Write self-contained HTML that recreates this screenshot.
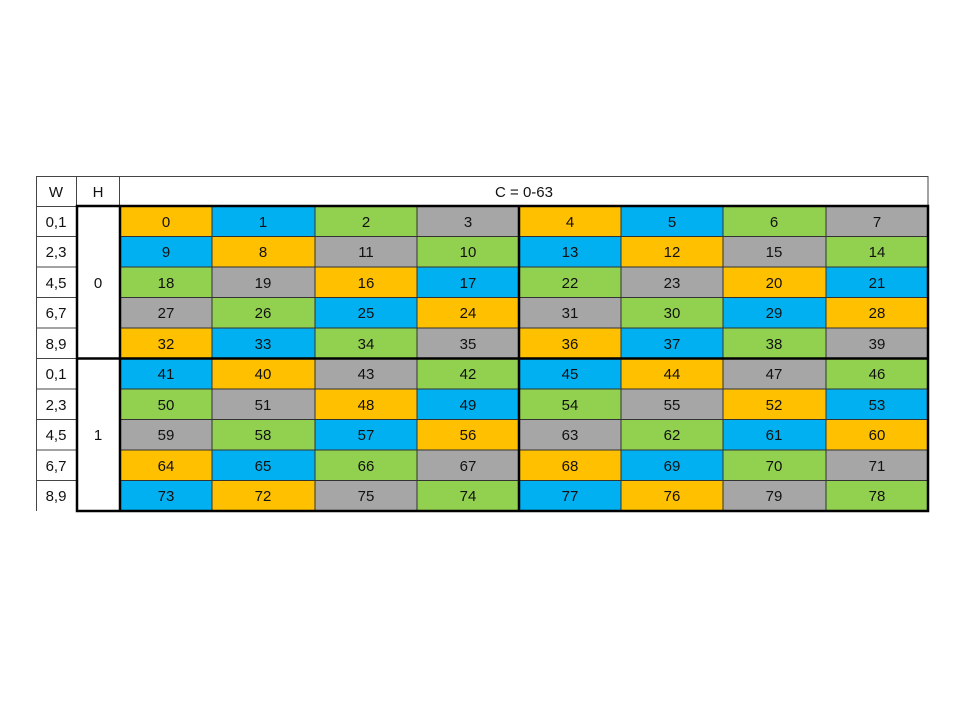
<!DOCTYPE html>
<html><head><meta charset="utf-8"><style>
html,body{margin:0;padding:0;background:#fff;}
svg{display:block;}
text{font-family:"Liberation Sans",sans-serif;font-size:15px;fill:#111;text-anchor:middle;}
</style></head><body>
<svg width="978" height="720" viewBox="0 0 978 720" xmlns="http://www.w3.org/2000/svg">
<g stroke="#333" stroke-width="1">
<!-- row 0 -->
<rect x="120" y="206" width="92" height="30.5" fill="#FFC000"/><rect x="212" y="206" width="103" height="30.5" fill="#00B0F0"/><rect x="315" y="206" width="102" height="30.5" fill="#92D050"/><rect x="417" y="206" width="102" height="30.5" fill="#A6A6A6"/><rect x="519" y="206" width="102" height="30.5" fill="#FFC000"/><rect x="621" y="206" width="102" height="30.5" fill="#00B0F0"/><rect x="723" y="206" width="103" height="30.5" fill="#92D050"/><rect x="826" y="206" width="102" height="30.5" fill="#A6A6A6"/>
<!-- row 1 -->
<rect x="120" y="236.5" width="92" height="30.5" fill="#00B0F0"/><rect x="212" y="236.5" width="103" height="30.5" fill="#FFC000"/><rect x="315" y="236.5" width="102" height="30.5" fill="#A6A6A6"/><rect x="417" y="236.5" width="102" height="30.5" fill="#92D050"/><rect x="519" y="236.5" width="102" height="30.5" fill="#00B0F0"/><rect x="621" y="236.5" width="102" height="30.5" fill="#FFC000"/><rect x="723" y="236.5" width="103" height="30.5" fill="#A6A6A6"/><rect x="826" y="236.5" width="102" height="30.5" fill="#92D050"/>
<!-- row 2 -->
<rect x="120" y="267" width="92" height="30.5" fill="#92D050"/><rect x="212" y="267" width="103" height="30.5" fill="#A6A6A6"/><rect x="315" y="267" width="102" height="30.5" fill="#FFC000"/><rect x="417" y="267" width="102" height="30.5" fill="#00B0F0"/><rect x="519" y="267" width="102" height="30.5" fill="#92D050"/><rect x="621" y="267" width="102" height="30.5" fill="#A6A6A6"/><rect x="723" y="267" width="103" height="30.5" fill="#FFC000"/><rect x="826" y="267" width="102" height="30.5" fill="#00B0F0"/>
<!-- row 3 -->
<rect x="120" y="297.5" width="92" height="30.5" fill="#A6A6A6"/><rect x="212" y="297.5" width="103" height="30.5" fill="#92D050"/><rect x="315" y="297.5" width="102" height="30.5" fill="#00B0F0"/><rect x="417" y="297.5" width="102" height="30.5" fill="#FFC000"/><rect x="519" y="297.5" width="102" height="30.5" fill="#A6A6A6"/><rect x="621" y="297.5" width="102" height="30.5" fill="#92D050"/><rect x="723" y="297.5" width="103" height="30.5" fill="#00B0F0"/><rect x="826" y="297.5" width="102" height="30.5" fill="#FFC000"/>
<!-- row 4 -->
<rect x="120" y="328" width="92" height="30.5" fill="#FFC000"/><rect x="212" y="328" width="103" height="30.5" fill="#00B0F0"/><rect x="315" y="328" width="102" height="30.5" fill="#92D050"/><rect x="417" y="328" width="102" height="30.5" fill="#A6A6A6"/><rect x="519" y="328" width="102" height="30.5" fill="#FFC000"/><rect x="621" y="328" width="102" height="30.5" fill="#00B0F0"/><rect x="723" y="328" width="103" height="30.5" fill="#92D050"/><rect x="826" y="328" width="102" height="30.5" fill="#A6A6A6"/>
<!-- row 5 -->
<rect x="120" y="358.5" width="92" height="30.5" fill="#00B0F0"/><rect x="212" y="358.5" width="103" height="30.5" fill="#FFC000"/><rect x="315" y="358.5" width="102" height="30.5" fill="#A6A6A6"/><rect x="417" y="358.5" width="102" height="30.5" fill="#92D050"/><rect x="519" y="358.5" width="102" height="30.5" fill="#00B0F0"/><rect x="621" y="358.5" width="102" height="30.5" fill="#FFC000"/><rect x="723" y="358.5" width="103" height="30.5" fill="#A6A6A6"/><rect x="826" y="358.5" width="102" height="30.5" fill="#92D050"/>
<!-- row 6 -->
<rect x="120" y="389" width="92" height="30.5" fill="#92D050"/><rect x="212" y="389" width="103" height="30.5" fill="#A6A6A6"/><rect x="315" y="389" width="102" height="30.5" fill="#FFC000"/><rect x="417" y="389" width="102" height="30.5" fill="#00B0F0"/><rect x="519" y="389" width="102" height="30.5" fill="#92D050"/><rect x="621" y="389" width="102" height="30.5" fill="#A6A6A6"/><rect x="723" y="389" width="103" height="30.5" fill="#FFC000"/><rect x="826" y="389" width="102" height="30.5" fill="#00B0F0"/>
<!-- row 7 -->
<rect x="120" y="419.5" width="92" height="30.5" fill="#A6A6A6"/><rect x="212" y="419.5" width="103" height="30.5" fill="#92D050"/><rect x="315" y="419.5" width="102" height="30.5" fill="#00B0F0"/><rect x="417" y="419.5" width="102" height="30.5" fill="#FFC000"/><rect x="519" y="419.5" width="102" height="30.5" fill="#A6A6A6"/><rect x="621" y="419.5" width="102" height="30.5" fill="#92D050"/><rect x="723" y="419.5" width="103" height="30.5" fill="#00B0F0"/><rect x="826" y="419.5" width="102" height="30.5" fill="#FFC000"/>
<!-- row 8 -->
<rect x="120" y="450" width="92" height="30.5" fill="#FFC000"/><rect x="212" y="450" width="103" height="30.5" fill="#00B0F0"/><rect x="315" y="450" width="102" height="30.5" fill="#92D050"/><rect x="417" y="450" width="102" height="30.5" fill="#A6A6A6"/><rect x="519" y="450" width="102" height="30.5" fill="#FFC000"/><rect x="621" y="450" width="102" height="30.5" fill="#00B0F0"/><rect x="723" y="450" width="103" height="30.5" fill="#92D050"/><rect x="826" y="450" width="102" height="30.5" fill="#A6A6A6"/>
<!-- row 9 -->
<rect x="120" y="480.5" width="92" height="30.5" fill="#00B0F0"/><rect x="212" y="480.5" width="103" height="30.5" fill="#FFC000"/><rect x="315" y="480.5" width="102" height="30.5" fill="#A6A6A6"/><rect x="417" y="480.5" width="102" height="30.5" fill="#92D050"/><rect x="519" y="480.5" width="102" height="30.5" fill="#00B0F0"/><rect x="621" y="480.5" width="102" height="30.5" fill="#FFC000"/><rect x="723" y="480.5" width="103" height="30.5" fill="#A6A6A6"/><rect x="826" y="480.5" width="102" height="30.5" fill="#92D050"/>
</g>
<!-- header and left columns thin lines -->
<g stroke="#444" stroke-width="1" fill="none">
<rect x="36.5" y="176.5" width="891.5" height="30"/>
<line x1="76.5" y1="176" x2="76.5" y2="511"/>
<line x1="119.5" y1="176" x2="119.5" y2="206"/>
<line x1="36.5" y1="206" x2="36.5" y2="511"/>
<line x1="36" y1="236.5" x2="76" y2="236.5"/><line x1="36" y1="267" x2="76" y2="267"/><line x1="36" y1="297.5" x2="76" y2="297.5"/><line x1="36" y1="328" x2="76" y2="328"/><line x1="36" y1="358.5" x2="76" y2="358.5"/><line x1="36" y1="389" x2="76" y2="389"/><line x1="36" y1="419.5" x2="76" y2="419.5"/><line x1="36" y1="450" x2="76" y2="450"/><line x1="36" y1="480.5" x2="76" y2="480.5"/>
</g>
<!-- thick borders -->
<g stroke="#000" stroke-width="2.5" fill="none">
<rect x="77" y="206" width="851" height="305"/>
<line x1="120" y1="206" x2="120" y2="511"/>
<line x1="519" y1="206" x2="519" y2="511"/>
<line x1="77" y1="358.5" x2="928" y2="358.5"/>
</g>
<!-- header text -->
<text x="56" y="197">W</text><text x="98" y="197">H</text><text x="524" y="197">C = 0-63</text>
<text x="56" y="227">0,1</text><text x="56" y="257">2,3</text><text x="56" y="288">4,5</text><text x="56" y="318">6,7</text><text x="56" y="349">8,9</text>
<text x="56" y="379">0,1</text><text x="56" y="410">2,3</text><text x="56" y="440">4,5</text><text x="56" y="471">6,7</text><text x="56" y="501">8,9</text>
<text x="98" y="288">0</text><text x="98" y="440">1</text>
<!-- cell text -->
<g>
<text x="166" y="227">0</text><text x="263" y="227">1</text><text x="366" y="227">2</text><text x="468" y="227">3</text><text x="570" y="227">4</text><text x="672" y="227">5</text><text x="774" y="227">6</text><text x="877" y="227">7</text>
<text x="166" y="257">9</text><text x="263" y="257">8</text><text x="366" y="257">11</text><text x="468" y="257">10</text><text x="570" y="257">13</text><text x="672" y="257">12</text><text x="774" y="257">15</text><text x="877" y="257">14</text>
<text x="166" y="288">18</text><text x="263" y="288">19</text><text x="366" y="288">16</text><text x="468" y="288">17</text><text x="570" y="288">22</text><text x="672" y="288">23</text><text x="774" y="288">20</text><text x="877" y="288">21</text>
<text x="166" y="318">27</text><text x="263" y="318">26</text><text x="366" y="318">25</text><text x="468" y="318">24</text><text x="570" y="318">31</text><text x="672" y="318">30</text><text x="774" y="318">29</text><text x="877" y="318">28</text>
<text x="166" y="349">32</text><text x="263" y="349">33</text><text x="366" y="349">34</text><text x="468" y="349">35</text><text x="570" y="349">36</text><text x="672" y="349">37</text><text x="774" y="349">38</text><text x="877" y="349">39</text>
<text x="166" y="379">41</text><text x="263" y="379">40</text><text x="366" y="379">43</text><text x="468" y="379">42</text><text x="570" y="379">45</text><text x="672" y="379">44</text><text x="774" y="379">47</text><text x="877" y="379">46</text>
<text x="166" y="410">50</text><text x="263" y="410">51</text><text x="366" y="410">48</text><text x="468" y="410">49</text><text x="570" y="410">54</text><text x="672" y="410">55</text><text x="774" y="410">52</text><text x="877" y="410">53</text>
<text x="166" y="440">59</text><text x="263" y="440">58</text><text x="366" y="440">57</text><text x="468" y="440">56</text><text x="570" y="440">63</text><text x="672" y="440">62</text><text x="774" y="440">61</text><text x="877" y="440">60</text>
<text x="166" y="471">64</text><text x="263" y="471">65</text><text x="366" y="471">66</text><text x="468" y="471">67</text><text x="570" y="471">68</text><text x="672" y="471">69</text><text x="774" y="471">70</text><text x="877" y="471">71</text>
<text x="166" y="501">73</text><text x="263" y="501">72</text><text x="366" y="501">75</text><text x="468" y="501">74</text><text x="570" y="501">77</text><text x="672" y="501">76</text><text x="774" y="501">79</text><text x="877" y="501">78</text>
</g>
</svg>
</body></html>
